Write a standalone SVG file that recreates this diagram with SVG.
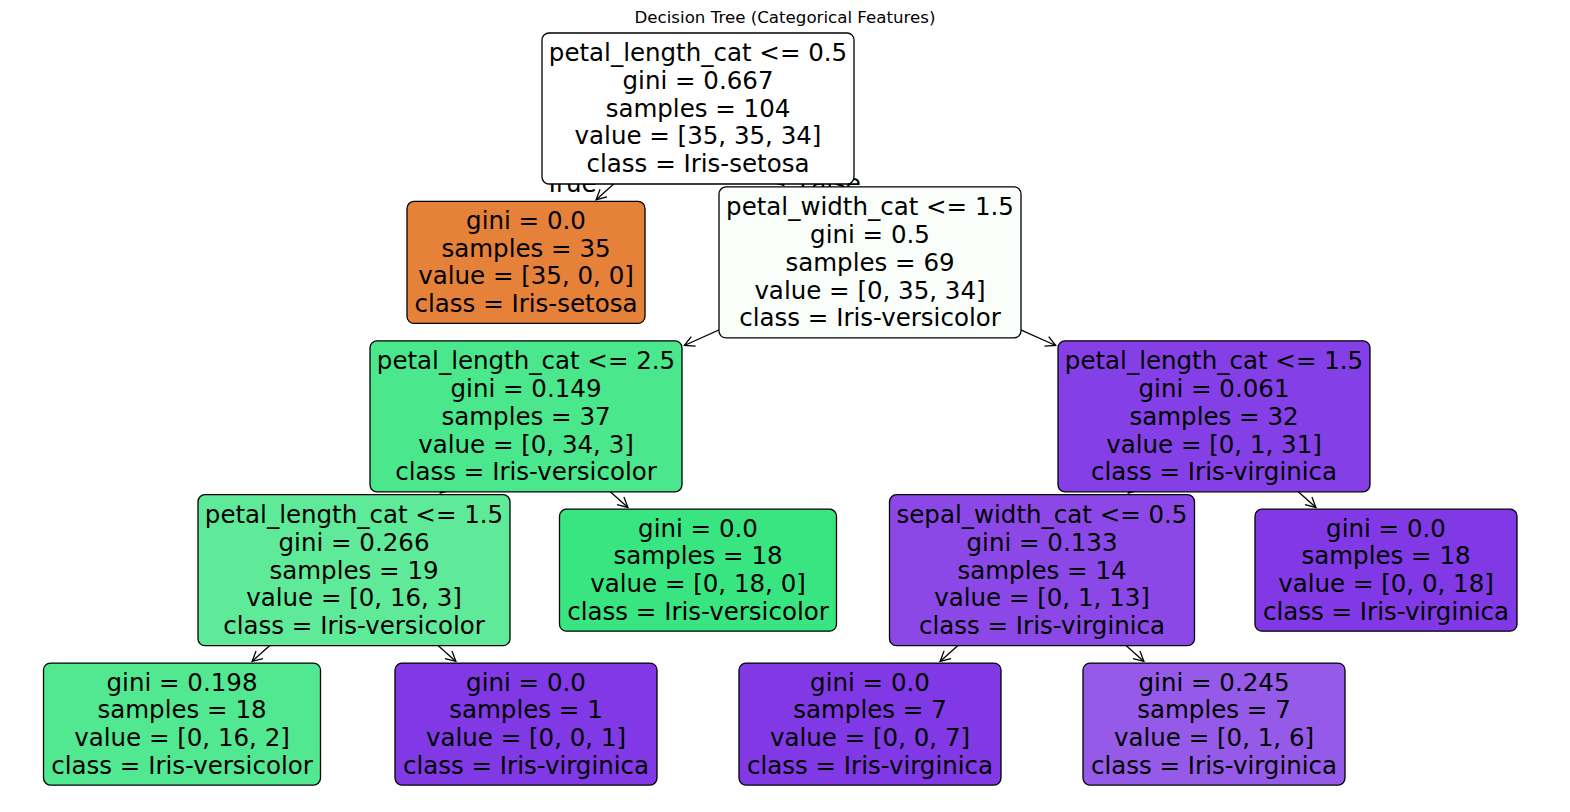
<svg xmlns="http://www.w3.org/2000/svg" width="1570" height="812" viewBox="0 0 1570 812">
<defs>
<marker id="ah" markerUnits="userSpaceOnUse" markerWidth="24" markerHeight="24" refX="0" refY="0" viewBox="-12 -12 24 24" orient="auto" overflow="visible">
<path d="M -10 -5.2 L 0 0 L -10 5.2" fill="none" stroke="#000" stroke-width="1.3"/>
</marker>
</defs>
<style>
text{font-family:"DejaVu Sans",sans-serif;fill:#000}
.t{font-size:24.5px;text-anchor:middle}
.title{font-size:16.67px;text-anchor:middle}
.box{stroke:#000;stroke-width:1.3}
.edge{stroke:#000;stroke-width:1.3;fill:none;marker-end:url(#ah)}
</style>
<rect width="1570" height="812" fill="#fff"/>
<text class="title" x="785" y="23">Decision Tree (Categorical Features)</text>
<g id="connectors">
<line class="edge" x1="698" y1="108.5" x2="596.1" y2="199.7"/>
<line class="edge" x1="698" y1="108.5" x2="783.7" y2="185.2"/>
<line class="edge" x1="870" y1="262.4" x2="684.3" y2="345.5"/>
<line class="edge" x1="870" y1="262.4" x2="1055.7" y2="345.5"/>
<line class="edge" x1="526" y1="416.3" x2="440.3" y2="493.0"/>
<line class="edge" x1="526" y1="416.3" x2="627.9" y2="507.5"/>
<line class="edge" x1="1214" y1="416.3" x2="1128.3" y2="493.0"/>
<line class="edge" x1="1214" y1="416.3" x2="1315.9" y2="507.5"/>
<line class="edge" x1="354" y1="570.2" x2="252.1" y2="661.4"/>
<line class="edge" x1="354" y1="570.2" x2="455.9" y2="661.4"/>
<line class="edge" x1="1042" y1="570.2" x2="940.1" y2="661.4"/>
<line class="edge" x1="1042" y1="570.2" x2="1143.9" y2="661.4"/>
</g>
<g id="edge-labels">
<text class="t" style="text-anchor:end" x="596.7" y="192">True</text>
<text class="t" style="text-anchor:start" x="799.3" y="192">False</text>
</g>
<g id="n0">
<rect class="box" x="542" y="33" width="312" height="151" rx="7" fill="#ffffff"/>
<text class="t" x="698" y="61">petal_length_cat &lt;= 0.5</text>
<text class="t" x="698" y="88.7">gini = 0.667</text>
<text class="t" x="698" y="116.5">samples = 104</text>
<text class="t" x="698" y="144.2">value = [35, 35, 34]</text>
<text class="t" x="698" y="172">class = Iris-setosa</text>
</g>
<g id="n1">
<rect class="box" x="407" y="201.4" width="238" height="122" rx="7" fill="#e58139"/>
<text class="t" x="526" y="228.8">gini = 0.0</text>
<text class="t" x="526" y="256.5">samples = 35</text>
<text class="t" x="526" y="284.3">value = [35, 0, 0]</text>
<text class="t" x="526" y="312">class = Iris-setosa</text>
</g>
<g id="n2">
<rect class="box" x="719" y="186.9" width="302" height="151" rx="7" fill="#f9fefb"/>
<text class="t" x="870" y="215.4">petal_width_cat &lt;= 1.5</text>
<text class="t" x="870" y="243.1">gini = 0.5</text>
<text class="t" x="870" y="270.9">samples = 69</text>
<text class="t" x="870" y="298.6">value = [0, 35, 34]</text>
<text class="t" x="870" y="326.4">class = Iris-versicolor</text>
</g>
<g id="n3">
<rect class="box" x="370" y="340.8" width="312" height="151" rx="7" fill="#4ae78c"/>
<text class="t" x="526" y="369.3">petal_length_cat &lt;= 2.5</text>
<text class="t" x="526" y="397">gini = 0.149</text>
<text class="t" x="526" y="424.8">samples = 37</text>
<text class="t" x="526" y="452.5">value = [0, 34, 3]</text>
<text class="t" x="526" y="480.3">class = Iris-versicolor</text>
</g>
<g id="n4">
<rect class="box" x="1058" y="340.8" width="312" height="151" rx="7" fill="#853fe6"/>
<text class="t" x="1214" y="369.3">petal_length_cat &lt;= 1.5</text>
<text class="t" x="1214" y="397">gini = 0.061</text>
<text class="t" x="1214" y="424.8">samples = 32</text>
<text class="t" x="1214" y="452.5">value = [0, 1, 31]</text>
<text class="t" x="1214" y="480.3">class = Iris-virginica</text>
</g>
<g id="n5">
<rect class="box" x="198" y="494.7" width="312" height="151" rx="7" fill="#5eea99"/>
<text class="t" x="354" y="523.2">petal_length_cat &lt;= 1.5</text>
<text class="t" x="354" y="550.9">gini = 0.266</text>
<text class="t" x="354" y="578.7">samples = 19</text>
<text class="t" x="354" y="606.4">value = [0, 16, 3]</text>
<text class="t" x="354" y="634.2">class = Iris-versicolor</text>
</g>
<g id="n6">
<rect class="box" x="559.5" y="509.2" width="277" height="122" rx="7" fill="#39e581"/>
<text class="t" x="698" y="536.6">gini = 0.0</text>
<text class="t" x="698" y="564.3">samples = 18</text>
<text class="t" x="698" y="592.1">value = [0, 18, 0]</text>
<text class="t" x="698" y="619.8">class = Iris-versicolor</text>
</g>
<g id="n7">
<rect class="box" x="889.5" y="494.7" width="305" height="151" rx="7" fill="#8b48e7"/>
<text class="t" x="1042" y="523.2">sepal_width_cat &lt;= 0.5</text>
<text class="t" x="1042" y="550.9">gini = 0.133</text>
<text class="t" x="1042" y="578.7">samples = 14</text>
<text class="t" x="1042" y="606.4">value = [0, 1, 13]</text>
<text class="t" x="1042" y="634.2">class = Iris-virginica</text>
</g>
<g id="n8">
<rect class="box" x="1255" y="509.2" width="262" height="122" rx="7" fill="#8139e5"/>
<text class="t" x="1386" y="536.6">gini = 0.0</text>
<text class="t" x="1386" y="564.3">samples = 18</text>
<text class="t" x="1386" y="592.1">value = [0, 0, 18]</text>
<text class="t" x="1386" y="619.8">class = Iris-virginica</text>
</g>
<g id="n9">
<rect class="box" x="43.5" y="663.1" width="277" height="122" rx="7" fill="#52e891"/>
<text class="t" x="182" y="690.5">gini = 0.198</text>
<text class="t" x="182" y="718.2">samples = 18</text>
<text class="t" x="182" y="746">value = [0, 16, 2]</text>
<text class="t" x="182" y="773.7">class = Iris-versicolor</text>
</g>
<g id="n10">
<rect class="box" x="395" y="663.1" width="262" height="122" rx="7" fill="#8139e5"/>
<text class="t" x="526" y="690.5">gini = 0.0</text>
<text class="t" x="526" y="718.2">samples = 1</text>
<text class="t" x="526" y="746">value = [0, 0, 1]</text>
<text class="t" x="526" y="773.7">class = Iris-virginica</text>
</g>
<g id="n11">
<rect class="box" x="739" y="663.1" width="262" height="122" rx="7" fill="#8139e5"/>
<text class="t" x="870" y="690.5">gini = 0.0</text>
<text class="t" x="870" y="718.2">samples = 7</text>
<text class="t" x="870" y="746">value = [0, 0, 7]</text>
<text class="t" x="870" y="773.7">class = Iris-virginica</text>
</g>
<g id="n12">
<rect class="box" x="1083" y="663.1" width="262" height="122" rx="7" fill="#965ae9"/>
<text class="t" x="1214" y="690.5">gini = 0.245</text>
<text class="t" x="1214" y="718.2">samples = 7</text>
<text class="t" x="1214" y="746">value = [0, 1, 6]</text>
<text class="t" x="1214" y="773.7">class = Iris-virginica</text>
</g>
</svg>
